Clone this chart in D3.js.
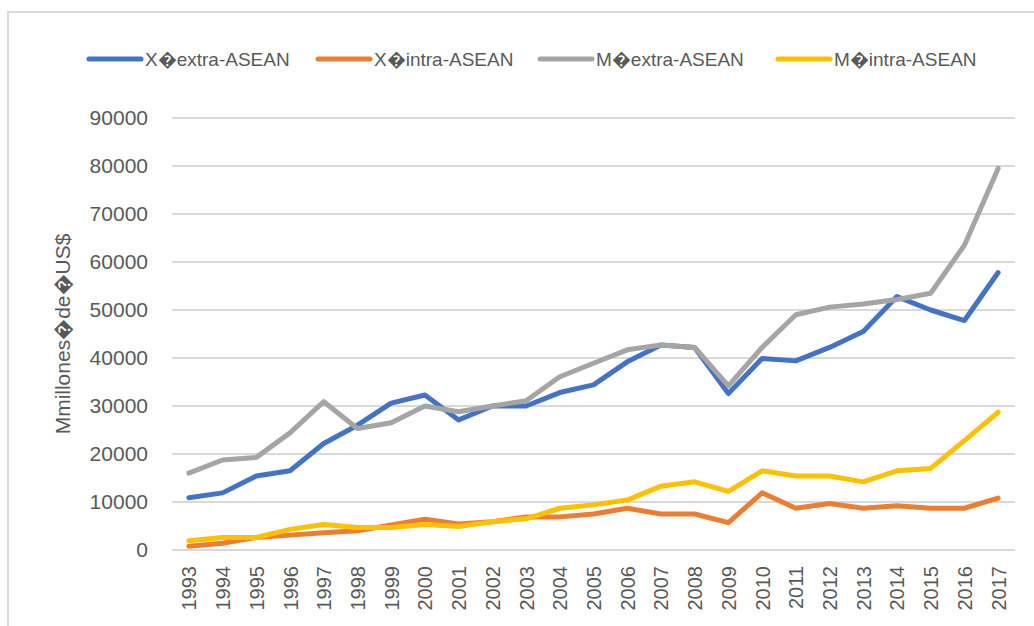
<!DOCTYPE html>
<html lang="es">
<head>
<meta charset="UTF-8">
<title>ASEAN</title>
<script src="https://d3js.org/d3.v7.min.js"></script>
<style>
  body { margin: 0; background: #fff; font-family: "Liberation Sans", Arial, sans-serif; }
  .axis text { fill: #595959; }
  .axis path, .axis line { display: none; }
</style>
</head>
<body>
<div id="chart"></div>
<script>
const years = d3.range(1993, 2018).map(String);
const xExtra = [10900, 11900, 15400, 16500, 22200, 26000, 30600, 32300, 27100, 30000, 30000, 32800, 34400, 39200, 42700, 42200, 32600, 39900, 39400, 42200, 45500, 52800, 50000, 47800, 57800];
const xIntra = [800, 1400, 2600, 3100, 3600, 4000, 5200, 6400, 5400, 5900, 6900, 6900, 7500, 8700, 7500, 7500, 5700, 11900, 8700, 9700, 8700, 9200, 8700, 8700, 10800];
const mExtra = [16000, 18750, 19300, 24400, 30900, 25300, 26500, 30000, 28800, 30000, 31100, 36100, 38900, 41700, 42700, 42200, 34200, 42200, 49000, 50600, 51250, 52200, 53500, 63500, 79500];
const mIntra = [1950, 2600, 2600, 4300, 5300, 4700, 4700, 5300, 4900, 5900, 6500, 8700, 9400, 10400, 13300, 14200, 12200, 16500, 15400, 15400, 14200, 16500, 17000, 22800, 28700];
const yTicks = [0, 10000, 20000, 30000, 40000, 50000, 60000, 70000, 80000, 90000];
const seriesNames = ["X\uFFFDextra-ASEAN", "X\uFFFDintra-ASEAN", "M\uFFFDextra-ASEAN", "M\uFFFDintra-ASEAN"];
const seriesColors = ["#4472c4", "#ed7d31", "#a5a5a5", "#ffc000"];
const yTitle = "Mmillones\uFFFDde\uFFFDUS$";

const W = 1034, H = 626;
const margin = {top: 118, right: 19, bottom: 76, left: 172};
const width = W - margin.left - margin.right;
const height = H - margin.top - margin.bottom;

const svg = d3.select("#chart").append("svg")
    .attr("width", W)
    .attr("height", H);

// chart frame (only top and left edges are visible)
svg.append("rect")
    .attr("x", 8).attr("y", 12)
    .attr("width", W + 20).attr("height", H + 20)
    .attr("fill", "none")
    .attr("stroke", "#d9d9d9")
    .attr("stroke-width", 2);

const g = svg.append("g")
    .attr("transform", "translate(" + margin.left + "," + margin.top + ")");

const x = d3.scalePoint().domain(years).range([0, width]).padding(0.5);
const y = d3.scaleLinear().domain([0, 90000]).range([height, 0]);

// gridlines
g.selectAll(".grid")
    .data(yTicks)
    .enter().append("line")
    .attr("x1", 0).attr("x2", width)
    .attr("y1", d => y(d)).attr("y2", d => y(d))
    .attr("stroke", "#d9d9d9")
    .attr("stroke-width", 2);

g.append("g")
    .attr("class", "axis")
    .attr("transform", "translate(-24,0)")
    .call(d3.axisLeft(y).tickValues(yTicks).tickSize(0).tickPadding(0).tickFormat(d3.format("d")))
    .selectAll("text")
    .style("font-size", "21px");

g.append("g")
    .attr("class", "axis")
    .attr("transform", "translate(0," + (height + 16) + ")")
    .call(d3.axisBottom(x).tickSize(0).tickPadding(0))
    .selectAll("text")
    .style("font-size", "20px")
    .attr("transform", "rotate(-90)")
    .attr("text-anchor", "end")
    .attr("dx", 0)
    .attr("dy", "0.35em")
    .attr("x", 0).attr("y", 0);

svg.append("text")
    .attr("transform", "translate(70," + (margin.top + height / 2) + ") rotate(-90)")
    .attr("text-anchor", "middle")
    .attr("fill", "#595959")
    .style("font-size", "21px")
    .text(yTitle);

const allSeries = [xExtra, xIntra, mExtra, mIntra];
const line = d3.line().x((d, i) => x(years[i])).y(d => y(d));

// draw in legend order; M extra on top of X extra, M intra over X intra
[0, 1, 2, 3].forEach(k => {
    g.append("path")
        .datum(allSeries[k])
        .attr("fill", "none")
        .attr("stroke", seriesColors[k])
        .attr("stroke-width", 5)
        .attr("stroke-linejoin", "round")
        .attr("stroke-linecap", "round")
        .attr("d", line);
});

// legend
const legendX = [89, 318, 540, 778];
const legend = svg.selectAll(".legend")
    .data(seriesNames)
    .enter().append("g")
    .attr("class", "legend")
    .attr("transform", (d, i) => "translate(" + legendX[i] + ",59)");

legend.append("line")
    .attr("x1", 0).attr("x2", 52)
    .attr("stroke", (d, i) => seriesColors[i])
    .attr("stroke-width", 5)
    .attr("stroke-linecap", "round");

legend.append("text")
    .attr("x", 56)
    .attr("dy", "0.35em")
    .attr("fill", "#595959")
    .style("font-size", "19px")
    .text(d => d);
</script>
</body>
</html>
